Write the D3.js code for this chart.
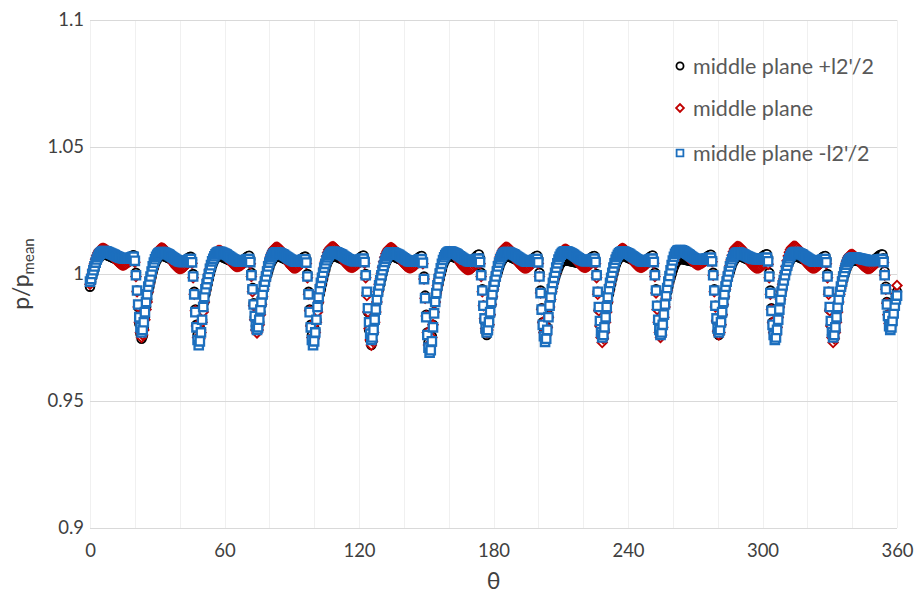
<!DOCTYPE html>
<html><head><meta charset="utf-8">
<script src="https://cdn.jsdelivr.net/npm/d3@7/dist/d3.min.js"></script>
<style>body{margin:0;background:#fff;overflow:hidden}</style>
</head><body><svg id="c" width="914" height="599"></svg>
<script>
// ---------- data ----------
const thetaStep = 0.5;            // sampling step of theta (deg), theta = 0 ... 360
const xTicks = [0, 60, 120, 180, 240, 300, 360];
const xGrid = [0, 20, 40, 60, 80, 100, 120, 140, 160, 180, 200, 220, 240, 260, 280, 300, 320, 340, 360];
const yTicks = [0.9, 0.95, 1, 1.05, 1.1];
const yTickLabels = ["0.9", "0.95", "1", "1.05", "1.1"];
const seriesNames = ["middle plane +l2'/2", "middle plane", "middle plane -l2'/2"];

// p/p_mean, middle plane +l2'/2 (black circles)
const plusHalf = [
0.995,0.997,0.999,1.0005,1.002,1.0035,1.0047,1.0057,1.0064,1.0069,1.0073,1.0076,1.0078,1.0078,1.0077,1.0075,1.0073,1.0071,1.0069,
1.0067,1.0065,1.0063,1.0061,1.0059,1.0057,1.0055,1.0054,1.0053,1.0052,1.0052,1.0052,1.0053,1.0054,1.0056,1.0059,1.0062,1.0066,1.007,
1.0073,1.0074,1.006,1.0005,0.9935,0.987,0.9805,0.9765,
0.9745,0.9755,0.979,0.983,0.987,0.990,0.993,0.995,0.997,0.999,1.001,1.0025,1.004,1.005,1.0058,1.0064,1.0068,1.0071,1.0072,1.0072,1.0071,1.0069,1.0067,1.0065,1.0063,
1.0061,1.0059,1.0057,1.0055,1.0053,1.0051,1.0049,1.0047,1.0046,1.0045,1.0045,1.0045,1.0046,1.0048,1.0051,1.0055,1.006,1.0064,
1.0067,1.0068,1.0055,1.000,0.993,0.986,0.980,0.976,
0.974,0.975,0.978,0.982,0.986,0.989,0.992,0.994,0.996,0.998,1.000,1.0018,1.0033,1.0045,1.0054,1.0061,1.0066,1.0069,1.007,1.007,1.0069,1.0067,1.0065,1.0063,1.0061,
1.0059,1.0057,1.0055,1.0053,1.0051,1.0049,1.0047,1.0045,1.0044,1.0043,1.0043,1.0043,1.0044,1.0046,1.0049,1.0053,1.0058,1.0063,1.0067,
1.007,1.0072,1.0058,1.0005,0.9945,0.9885,0.983,0.9795,
0.978,0.979,0.981,0.985,0.988,0.991,0.994,0.996,0.998,0.9995,1.001,1.0025,1.0038,1.0048,1.0056,1.0062,1.0066,1.0069,1.007,1.007,1.0069,1.0067,1.0065,1.0063,1.0061,
1.0059,1.0057,1.0055,1.0053,1.0051,1.0049,1.0047,1.0046,1.0045,1.0045,1.0045,1.0046,1.0048,1.0051,1.0055,1.006,1.0064,
1.0067,1.0069,1.0056,1.000,0.993,0.986,0.980,0.976,
0.974,0.975,0.978,0.982,0.986,0.989,0.992,0.994,0.996,0.998,1.000,1.0018,1.0034,1.0046,1.0055,1.0062,1.0067,1.007,1.0071,1.0071,1.007,1.0068,1.0066,1.0064,1.0062,
1.006,1.0058,1.0056,1.0054,1.0052,1.005,1.0048,1.0046,1.0045,1.0044,1.0044,1.0044,1.0045,1.0047,1.005,1.0054,1.0059,1.0064,1.0068,
1.0071,1.0073,1.0058,1.000,0.9925,0.985,0.978,0.974,
0.972,0.9735,0.977,0.981,0.985,0.989,0.992,0.994,0.996,0.998,1.000,1.0017,1.0033,1.0045,1.0054,1.0061,1.0066,1.0069,1.007,1.007,1.0069,1.0067,1.0065,1.0063,1.0061,
1.0059,1.0057,1.0055,1.0053,1.0051,1.0049,1.0047,1.0045,1.0044,1.0043,1.0043,1.0043,1.0044,1.0046,1.0049,1.0053,1.0058,1.0063,1.0067,
1.007,1.0071,1.0056,0.999,0.9915,0.984,0.977,0.973,
0.971,0.972,0.9755,0.980,0.985,0.989,0.992,0.994,0.996,0.998,1.000,1.0018,1.0034,1.0046,1.0055,1.0062,1.0067,1.007,1.0071,1.0071,1.007,1.0068,1.0066,1.0064,1.0062,
1.006,1.0058,1.0056,1.0054,1.0052,1.005,1.0048,1.0047,1.0046,1.0046,1.0046,1.0047,1.0049,1.0052,1.0056,1.0061,1.0066,1.0071,
1.0075,1.0077,1.0062,1.0005,0.994,0.9875,0.9815,0.9775,
0.976,0.977,0.980,0.984,0.988,0.991,0.994,0.996,0.998,0.9995,1.001,1.0025,1.0038,1.0048,1.0056,1.0062,1.0066,1.0069,1.007,1.007,1.0069,1.0067,1.0065,1.0063,1.0061,
1.0059,1.0057,1.0055,1.0053,1.0051,1.0049,1.0047,1.0045,1.0044,1.0043,1.0043,1.0043,1.0044,1.0046,1.0049,1.0053,1.0058,1.0063,1.0067,
1.007,1.0072,1.0058,1.0005,0.9935,0.9865,0.981,0.977,
0.975,0.976,0.979,0.983,0.987,0.990,0.993,0.995,0.997,0.9985,1.0,1.0013,1.0025,1.0035,1.0042,1.0047,1.005,1.0052,1.0053,1.0053,1.0053,1.0052,1.0051,1.005,1.0049,
1.0048,1.0047,1.0046,1.0045,1.0044,1.0043,1.0042,1.0042,1.0042,1.0042,1.0043,1.0044,1.0046,1.0049,1.0053,1.0058,1.0063,1.0067,
1.007,1.0071,1.0056,1.0,0.993,0.986,0.980,0.976,
0.974,0.975,0.978,0.982,0.986,0.989,0.992,0.994,0.996,0.998,1.0,1.0018,1.0034,1.0046,1.0055,1.0062,1.0067,1.007,1.0071,1.0071,1.007,1.0068,1.0066,1.0064,1.0062,
1.006,1.0058,1.0056,1.0054,1.0052,1.005,1.0048,1.0046,1.0045,1.0044,1.0044,1.0044,1.0045,1.0047,1.005,1.0054,1.0059,1.0064,1.0068,
1.0071,1.0073,1.0059,1.0005,0.994,0.9875,0.9815,0.9775,
0.976,0.977,0.980,0.984,0.988,0.991,0.993,0.995,0.997,0.9985,1.0,1.0015,1.0028,1.0038,1.0046,1.0052,1.0056,1.0058,1.0059,1.0059,1.0058,1.0057,1.0056,1.0055,1.0054,
1.0053,1.0052,1.0051,1.005,1.0049,1.0048,1.0047,1.0046,1.0046,1.0046,1.0047,1.0048,1.005,1.0053,1.0057,1.0061,1.0065,1.0069,1.0072,
1.0075,1.0076,1.006,1.0005,0.994,0.9875,0.9815,0.9775,
0.976,0.977,0.980,0.984,0.988,0.991,0.994,0.996,0.998,0.9995,1.001,1.0025,1.0038,1.0048,1.0056,1.0062,1.0066,1.0069,1.007,1.007,1.0069,1.0067,1.0065,1.0063,1.0061,
1.0059,1.0057,1.0055,1.0053,1.0052,1.0051,1.005,1.005,1.005,1.0051,1.0053,1.0056,1.006,1.0064,1.0068,1.0072,1.0075,
1.0077,1.0078,1.0062,1.0005,0.9935,0.9865,0.981,0.977,
0.975,0.976,0.979,0.983,0.987,0.990,0.993,0.995,0.997,0.999,1.001,1.0025,1.0038,1.0048,1.0056,1.0062,1.0066,1.0069,1.007,1.007,1.0069,1.0067,1.0065,1.0063,1.0061,
1.0059,1.0057,1.0055,1.0053,1.0051,1.0049,1.0047,1.0045,1.0044,1.0043,1.0043,1.0043,1.0044,1.0046,1.0049,1.0053,1.0058,1.0063,1.0067,
1.007,1.0071,1.0056,1.0,0.993,0.986,0.980,0.976,
0.974,0.975,0.978,0.982,0.986,0.989,0.992,0.994,0.996,0.998,0.9995,1.001,1.0022,1.0032,1.004,1.0046,1.005,1.0052,1.0053,1.0053,1.0053,1.0052,1.0051,1.005,1.0049,
1.0048,1.0047,1.0046,1.0046,1.0045,1.0045,1.0045,1.0045,1.0046,1.0047,1.0049,1.0052,1.0056,1.006,1.0064,1.0068,1.0072,1.0075,
1.0077,1.0077,1.0062,1.001,0.995,0.989,0.984,0.9805,
0.979,0.980,0.9825,0.9855,0.9885,0.991,0.993
];

// p/p_mean, middle plane (red diamonds)
const middle = [
0.996,0.998,1.000,1.002,1.004,1.0058,1.0072,1.0083,1.0091,1.0096,1.0099,1.01,1.01,1.0099,1.0097,1.0094,1.009,1.0085,1.008,
1.0075,1.007,1.0065,1.006,1.0055,1.005,1.0046,1.0042,1.0039,1.0037,1.0036,1.0036,1.0037,1.0039,1.0042,1.0045,1.0048,1.0051,1.0054,
1.0056,1.0057,1.0046,0.999,0.993,0.987,0.981,0.977,
0.975,0.976,0.978,0.982,0.986,0.989,0.993,0.996,0.998,1.000,1.0022,1.0043,1.006,1.0074,1.0085,1.0093,1.0098,1.0101,1.0102,1.0101,1.0099,1.0095,1.009,1.0084,1.0077,
1.007,1.0062,1.0054,1.0046,1.0039,1.0033,1.0028,1.0025,1.0023,1.0022,1.0022,1.0023,1.0025,1.0028,1.0032,1.0037,1.0042,1.0046,
1.0049,1.005,1.0042,0.9985,0.992,0.9855,0.9795,0.975,
0.973,0.9745,0.977,0.981,0.985,0.989,0.993,0.996,0.998,1.000,1.002,1.0038,1.0053,1.0066,1.0076,1.0083,1.0088,1.0091,1.0092,1.0092,1.009,1.0087,1.0083,1.0078,1.0073,
1.0068,1.0062,1.0056,1.005,1.0045,1.004,1.0036,1.0033,1.0031,1.003,1.003,1.0031,1.0033,1.0035,1.0038,1.0041,1.0044,1.0047,1.0049,
1.005,1.005,1.004,0.999,0.993,0.9875,0.982,0.978,
0.9768,0.978,0.980,0.984,0.988,0.991,0.994,0.997,0.999,1.001,1.003,1.005,1.0068,1.0082,1.0092,1.0099,1.0103,1.0105,1.0105,1.0103,1.01,1.0095,1.0089,1.0082,1.0075,
1.0068,1.006,1.0052,1.0045,1.0038,1.0032,1.0028,1.0025,1.0024,1.0024,1.0025,1.0027,1.003,1.0034,1.0038,1.0042,1.0046,
1.0049,1.005,1.0041,0.9985,0.992,0.9855,0.9795,0.975,
0.973,0.9745,0.977,0.981,0.985,0.989,0.993,0.996,0.998,1.0003,1.0027,1.005,1.007,1.0085,1.0095,1.0101,1.0105,1.0107,1.0107,1.0105,1.0101,1.0096,1.009,1.0083,1.0076,
1.0069,1.0062,1.0055,1.0048,1.0042,1.0037,1.0033,1.003,1.0028,1.0027,1.0027,1.0028,1.003,1.0033,1.0036,1.004,1.0044,1.0047,1.005,
1.0052,1.0052,1.0042,0.9985,0.9915,0.985,0.9785,0.974,
0.972,0.9735,0.977,0.981,0.985,0.989,0.993,0.996,0.998,1.0003,1.0027,1.0048,1.0066,1.008,1.009,1.0097,1.0101,1.0103,1.0103,1.0101,1.0098,1.0093,1.0087,1.008,1.0073,
1.0066,1.0059,1.0052,1.0046,1.004,1.0035,1.0031,1.0028,1.0026,1.0025,1.0025,1.0026,1.0028,1.0031,1.0034,1.0038,1.0042,1.0045,1.0048,
1.005,1.005,1.004,0.998,0.9905,0.9835,0.977,0.972,
0.970,0.9715,0.975,0.980,0.985,0.989,0.9925,0.9955,0.998,1.0,1.002,1.0038,1.0053,1.0065,1.0074,1.008,1.0084,1.0086,1.0087,1.0086,1.0084,1.0081,1.0077,1.0072,1.0066,
1.006,1.0053,1.0046,1.0039,1.0033,1.0028,1.0024,1.0021,1.0019,1.0018,1.0018,1.0019,1.0021,1.0024,1.0028,1.0033,1.0038,1.0043,
1.0047,1.0049,1.004,0.999,0.993,0.9875,0.9825,0.9785,
0.977,0.978,0.980,0.984,0.988,0.991,0.994,0.997,0.999,1.001,1.003,1.005,1.0068,1.0082,1.0092,1.0099,1.0103,1.0105,1.0105,1.0103,1.01,1.0095,1.0089,1.0082,1.0075,
1.0068,1.006,1.0052,1.0045,1.0039,1.0034,1.003,1.0027,1.0025,1.0024,1.0024,1.0025,1.0027,1.003,1.0034,1.0038,1.0042,1.0045,1.0048,
1.005,1.005,1.0041,0.999,0.9925,0.986,0.981,0.977,
0.975,0.976,0.979,0.983,0.987,0.990,0.993,0.996,0.998,1.0,1.002,1.004,1.0057,1.0071,1.0081,1.0088,1.0093,1.0096,1.0097,1.0096,1.0094,1.0091,1.0087,1.0082,1.0077,
1.0071,1.0065,1.0059,1.0053,1.0047,1.0042,1.0037,1.0033,1.003,1.0028,1.0027,1.0027,1.0028,1.003,1.0033,1.0037,1.0041,1.0045,
1.0048,1.0049,1.004,0.9985,0.992,0.9855,0.9795,0.975,
0.973,0.9745,0.977,0.981,0.985,0.989,0.993,0.996,0.998,1.0,1.0022,1.0042,1.006,1.0074,1.0084,1.0091,1.0096,1.0099,1.01,1.0099,1.0097,1.0093,1.0088,1.0082,1.0076,
1.0069,1.0062,1.0055,1.0048,1.0042,1.0037,1.0033,1.003,1.0028,1.0027,1.0027,1.0028,1.003,1.0033,1.0036,1.004,1.0044,1.0047,1.005,
1.0052,1.0052,1.0042,0.999,0.9925,0.986,0.981,0.977,
0.975,0.976,0.979,0.983,0.987,0.9905,0.9935,0.996,0.998,1.0,1.002,1.0038,1.0054,1.0067,1.0077,1.0084,1.0088,1.009,1.0091,1.009,1.0088,1.0085,1.0081,1.0076,1.0071,
1.0066,1.0061,1.0056,1.0051,1.0047,1.0043,1.004,1.0038,1.0037,1.0037,1.0038,1.004,1.0042,1.0045,1.0048,1.0051,1.0054,1.0056,1.0058,
1.006,1.006,1.0048,0.9995,0.993,0.987,0.9815,0.9775,
0.976,0.977,0.980,0.984,0.988,0.991,0.994,0.997,0.999,1.001,1.0032,1.0055,1.0074,1.0088,1.0098,1.0104,1.0107,1.0108,1.0107,1.0105,1.0101,1.0096,1.009,1.0083,1.0076,
1.0068,1.006,1.0052,1.0045,1.0039,1.0034,1.003,1.0027,1.0025,1.0024,1.0024,1.0025,1.0027,1.003,1.0034,1.0038,1.0042,
1.0045,1.0046,1.0038,0.9985,0.992,0.986,0.981,0.977,
0.975,0.976,0.979,0.983,0.987,0.990,0.993,0.996,0.998,1.0005,1.003,1.0052,1.0071,1.0086,1.0096,1.0103,1.0107,1.0109,1.0109,1.0107,1.0103,1.0097,1.009,1.0082,1.0074,
1.0066,1.0058,1.0051,1.0045,1.0039,1.0034,1.003,1.0027,1.0025,1.0024,1.0024,1.0025,1.0027,1.003,1.0034,1.0038,1.0042,1.0045,1.0048,
1.005,1.005,1.004,0.9985,0.992,0.9855,0.9795,0.975,
0.973,0.9745,0.977,0.981,0.985,0.989,0.992,0.9945,0.9968,0.999,1.001,1.0032,1.005,1.0063,1.0071,1.0075,1.0077,1.0077,1.0075,1.0072,1.0068,1.0063,1.0058,1.0052,1.0046,
1.004,1.0035,1.0031,1.0028,1.0025,1.0023,1.0022,1.0022,1.0023,1.0025,1.0028,1.0032,1.0036,1.004,1.0044,1.0047,1.005,1.0052,
1.0054,1.0055,1.0045,0.9995,0.994,0.9885,0.984,0.9805,
0.979,0.980,0.983,0.986,0.989,0.992,0.9955
];

// p/p_mean, middle plane -l2'/2 (blue squares)
const minusHalf = [
0.997,0.998,1.000,1.0015,1.003,1.0045,1.0057,1.0067,1.0075,1.008,1.0085,1.0088,1.009,1.009,1.0089,1.0088,1.0086,1.0084,1.0082,
1.008,1.0078,1.0076,1.0074,1.0072,1.007,1.0068,1.0066,1.0064,1.0063,1.0062,1.0061,1.006,1.006,1.006,1.0061,1.0062,1.0064,1.0066,
1.0068,1.0068,1.0052,0.9995,0.9935,0.988,0.983,0.979,
0.977,0.978,0.981,0.985,0.989,0.992,0.995,0.997,0.999,1.001,1.003,1.0045,1.0058,1.0068,1.0075,1.008,1.0083,1.0085,1.0086,1.0086,1.0085,1.0083,1.0081,1.0079,1.0077,
1.0074,1.0071,1.0068,1.0065,1.0062,1.0059,1.0056,1.0054,1.0052,1.005,1.0049,1.0048,1.0048,1.0048,1.0049,1.0051,1.0054,1.0057,
1.0059,1.0059,1.0046,0.999,0.992,0.985,0.979,0.974,
0.972,0.9735,0.977,0.982,0.987,0.991,0.994,0.996,0.998,1.000,1.002,1.0035,1.005,1.006,1.007,1.0077,1.0082,1.0085,1.0087,1.0087,1.0086,1.0084,1.0082,1.008,1.0078,
1.0076,1.0073,1.007,1.0067,1.0064,1.0061,1.0058,1.0056,1.0054,1.0052,1.0051,1.005,1.005,1.005,1.0051,1.0052,1.0054,1.0056,1.0058,
1.0059,1.0059,1.0047,0.9995,0.994,0.988,0.9835,0.9795,
0.978,0.979,0.982,0.986,0.989,0.992,0.995,0.997,0.999,1.001,1.003,1.0045,1.0058,1.0068,1.0075,1.008,1.0083,1.0085,1.0085,1.0084,1.0083,1.0081,1.0079,1.0077,1.0075,
1.0072,1.0069,1.0066,1.0063,1.006,1.0057,1.0055,1.0053,1.0051,1.005,1.0049,1.0049,1.005,1.0051,1.0053,1.0055,1.0057,
1.0058,1.0058,1.0045,0.999,0.992,0.985,0.979,0.974,
0.972,0.9735,0.977,0.982,0.987,0.991,0.994,0.9965,0.9985,1.0005,1.0025,1.004,1.0054,1.0065,1.0073,1.0079,1.0083,1.0086,1.0087,1.0087,1.0086,1.0085,1.0083,1.0081,1.0079,
1.0077,1.0075,1.0072,1.0069,1.0066,1.0063,1.006,1.0058,1.0056,1.0054,1.0053,1.0052,1.0051,1.0051,1.0052,1.0053,1.0055,1.0057,1.0059,
1.006,1.006,1.0047,0.9995,0.993,0.9865,0.981,0.9765,
0.974,0.975,0.978,0.982,0.986,0.990,0.993,0.9955,0.9975,0.9995,1.0015,1.0032,1.0048,1.006,1.0069,1.0076,1.0081,1.0084,1.0085,1.0085,1.0084,1.0082,1.008,1.0078,1.0076,
1.0074,1.0071,1.0068,1.0065,1.0062,1.0059,1.0056,1.0054,1.0052,1.0051,1.005,1.0049,1.0049,1.0049,1.005,1.0052,1.0054,1.0056,1.0058,
1.0059,1.0058,1.0044,0.998,0.9905,0.983,0.976,0.971,
0.969,0.970,0.9735,0.979,0.9845,0.989,0.9925,0.9955,0.998,1.0002,1.0022,1.004,1.0055,1.0066,1.0074,1.008,1.0084,1.0087,1.0088,1.0088,1.0087,1.0085,1.0083,1.0081,1.0079,
1.0076,1.0073,1.007,1.0067,1.0064,1.0061,1.0058,1.0056,1.0054,1.0052,1.0051,1.005,1.005,1.0051,1.0053,1.0055,1.0057,1.0059,
1.006,1.006,1.0047,0.9995,0.9935,0.9875,0.9825,0.9785,
0.977,0.978,0.981,0.985,0.989,0.992,0.995,0.997,0.999,1.001,1.003,1.0045,1.0058,1.0068,1.0075,1.008,1.0083,1.0085,1.0086,1.0086,1.0085,1.0083,1.0081,1.0079,1.0077,
1.0075,1.0072,1.0069,1.0066,1.0063,1.006,1.0057,1.0055,1.0053,1.0051,1.005,1.0049,1.0049,1.0049,1.005,1.0052,1.0054,1.0056,1.0058,
1.0059,1.0059,1.0046,0.999,0.9925,0.986,0.980,0.9755,
0.9733,0.9745,0.978,0.983,0.9875,0.991,0.994,0.9965,0.9985,1.0005,1.0025,1.0042,1.0057,1.0068,1.0076,1.0082,1.0086,1.0088,1.0089,1.0089,1.0088,1.0086,1.0084,1.0082,1.008,
1.0077,1.0074,1.0071,1.0068,1.0065,1.0062,1.0059,1.0057,1.0055,1.0053,1.0052,1.0051,1.0051,1.0052,1.0053,1.0055,1.0057,1.0059,
1.006,1.006,1.0047,0.9995,0.993,0.987,0.9815,0.977,
0.975,0.976,0.979,0.983,0.987,0.991,0.994,0.9965,0.9985,1.0005,1.0025,1.0042,1.0056,1.0067,1.0075,1.0081,1.0085,1.0087,1.0088,1.0088,1.0087,1.0085,1.0083,1.0081,1.0079,
1.0076,1.0073,1.007,1.0067,1.0064,1.0061,1.0058,1.0056,1.0054,1.0052,1.0051,1.005,1.005,1.005,1.0051,1.0053,1.0055,1.0057,1.0059,
1.006,1.006,1.0047,0.9995,0.9935,0.9875,0.982,0.978,
0.976,0.977,0.980,0.984,0.988,0.9915,0.9945,0.997,0.9992,1.0014,1.0035,1.0053,1.0068,1.0079,1.0086,1.0091,1.0093,1.0094,1.0094,1.0093,1.0091,1.0089,1.0086,1.0083,1.008,
1.0077,1.0074,1.0071,1.0068,1.0065,1.0062,1.006,1.0058,1.0057,1.0056,1.0056,1.0056,1.0057,1.0058,1.0059,1.006,1.0061,1.0062,1.0063,
1.0064,1.0064,1.005,0.9995,0.9935,0.9875,0.9825,0.9785,
0.977,0.978,0.981,0.985,0.989,0.992,0.995,0.997,0.999,1.001,1.003,1.0045,1.0058,1.0068,1.0075,1.008,1.0083,1.0084,1.0084,1.0083,1.0081,1.0079,1.0077,1.0075,1.0073,
1.0071,1.0069,1.0067,1.0065,1.0063,1.0061,1.006,1.0059,1.0058,1.0058,1.0058,1.0058,1.0059,1.006,1.0061,1.0062,1.0063,
1.0064,1.0064,1.005,0.999,0.9925,0.9855,0.98,0.976,
0.974,0.975,0.978,0.982,0.986,0.990,0.993,0.9955,0.9975,0.9995,1.0015,1.0033,1.0049,1.0062,1.0071,1.0078,1.0082,1.0085,1.0086,1.0086,1.0085,1.0083,1.0081,1.0079,1.0077,
1.0075,1.0072,1.0069,1.0066,1.0063,1.006,1.0057,1.0055,1.0053,1.0051,1.005,1.0049,1.0049,1.0049,1.005,1.0052,1.0054,1.0056,1.0058,
1.0059,1.0059,1.0046,0.999,0.993,0.987,0.9815,0.977,
0.975,0.976,0.979,0.983,0.987,0.990,0.993,0.995,0.997,0.999,1.0008,1.0024,1.0037,1.0047,1.0054,1.0059,1.0062,1.0064,1.0065,1.0065,1.0065,1.0064,1.0063,1.0062,1.0061,
1.006,1.0059,1.0058,1.0057,1.0056,1.0055,1.0054,1.0053,1.0052,1.0052,1.0052,1.0052,1.0053,1.0054,1.0055,1.0056,1.0057,1.0058,
1.0059,1.0059,1.0047,0.9995,0.994,0.988,0.9835,0.9795,
0.978,0.979,0.9815,0.9845,0.9875,0.990,0.9915
];

// ---------- chart ----------
const svg = d3.select("#c");
const FONT = "Lato, 'Open Sans', 'DejaVu Sans', sans-serif";
const x = d3.scaleLinear().domain([0, 360]).range([90, 897]);
const y = d3.scaleLinear().domain([0.9, 1.1]).range([528, 20]);

// gridlines
svg.append("g").selectAll("line").data(xGrid).join("line")
  .attr("x1", d => Math.round(x(d)) + 0.5).attr("x2", d => Math.round(x(d)) + 0.5)
  .attr("y1", y(1.1)).attr("y2", y(0.9))
  .attr("stroke", "#f0f0f0").attr("stroke-width", 1);
svg.append("g").selectAll("line").data(yTicks).join("line")
  .attr("x1", x(0)).attr("x2", x(360))
  .attr("y1", d => Math.round(y(d)) + 0.5).attr("y2", d => Math.round(y(d)) + 0.5)
  .attr("stroke", "#d9d9d9").attr("stroke-width", 1);

// axes (labels only)
const yAxis = svg.append("g").attr("transform", `translate(${x(0)},0)`)
  .call(d3.axisLeft(y).tickValues(yTicks).tickFormat((d, i) => yTickLabels[i]).tickSize(0).tickPadding(6));
yAxis.select(".domain").remove();
yAxis.selectAll("text").attr("font-family", FONT).attr("font-size", 18.5).attr("fill", "#404040");

const xAxis = svg.append("g").attr("transform", `translate(0,${y(0.9)})`)
  .call(d3.axisBottom(x).tickValues(xTicks).tickFormat(d3.format("d")).tickSize(0).tickPadding(16));
xAxis.select(".domain").remove();
xAxis.selectAll("text").attr("font-family", FONT).attr("font-size", 18.5).attr("fill", "#404040");

// axis titles
svg.append("text").attr("x", x(180)).attr("y", 589).attr("text-anchor", "middle")
  .attr("font-family", FONT).attr("font-size", 23).attr("fill", "#404040").text("θ");
const yt = svg.append("text").attr("transform", `translate(29,${y(1)}) rotate(-90)`)
  .attr("text-anchor", "middle").attr("font-family", FONT).attr("font-size", 23).attr("fill", "#404040");
yt.append("tspan").text("p/p");
yt.append("tspan").attr("font-size", 15).attr("dy", 5).text("mean");

// series
const theta = i => i * thetaStep;
const series = [
  {name: seriesNames[0], values: plusHalf, color: "#000000", type: d3.symbolCircle, size: 58, lsize: 40, rot: 0, sw: 1.9},
  {name: seriesNames[1], values: middle, color: "#c00000", type: d3.symbolSquare, size: 44, lsize: 30, rot: 45, sw: 1.9},
  {name: seriesNames[2], values: minusHalf, color: "#1c6fbe", type: d3.symbolSquare, size: 70, lsize: 46, rot: 0, sw: 2.3}
];
series.forEach(s => {
  const sym = d3.symbol().type(s.type).size(s.size)();
  svg.append("g").selectAll("path").data(s.values).join("path")
    .attr("d", sym)
    .attr("transform", (d, i) => `translate(${x(theta(i))},${y(d)}) rotate(${s.rot})`)
    .attr("fill", "#ffffff").attr("stroke", s.color).attr("stroke-width", s.sw);
});

// legend
const legY = [66, 108, 153];
series.forEach((s, i) => {
  const sym = d3.symbol().type(s.type).size(s.lsize)();
  svg.append("path").attr("d", sym)
    .attr("transform", `translate(680,${legY[i]}) rotate(${s.rot})`)
    .attr("fill", "#ffffff").attr("stroke", s.color).attr("stroke-width", 1.8);
  svg.append("text").attr("x", 693).attr("y", legY[i]).attr("dy", "0.35em")
    .attr("font-family", FONT).attr("font-size", 21.5).attr("fill", "#595959").text(s.name);
});
</script></body></html>
